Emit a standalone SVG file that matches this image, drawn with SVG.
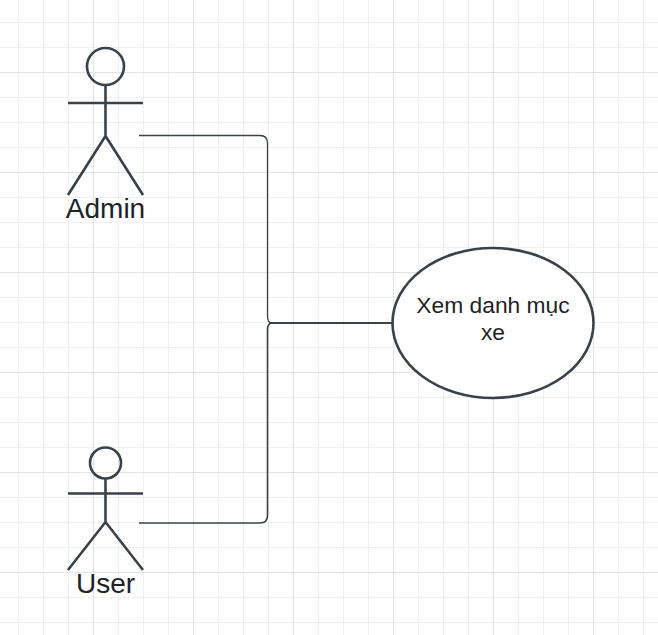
<svg xmlns="http://www.w3.org/2000/svg" width="658" height="635" viewBox="0 0 658 635">
<defs>
<pattern id="gridMinor" width="25" height="25" patternUnits="userSpaceOnUse" x="18" y="22"><path d="M0.5 0V25M0 0.5H25" fill="none" stroke="#f0f0f2" stroke-width="1"/></pattern>
<pattern id="gridMajor" width="100" height="100" patternUnits="userSpaceOnUse" x="93" y="72"><path d="M0.5 0V100M0 0.5H100" fill="none" stroke="#e2e3e6" stroke-width="1"/></pattern>
</defs>
<style>
.s{fill:none;stroke:#3a414a;stroke-width:2.6;stroke-linecap:butt}
.h{fill:#fff;stroke:#3a414a;stroke-width:2.6}
.c{fill:none;stroke:#3a414a;stroke-width:1.3}
text{font-family:"Liberation Sans",Arial,sans-serif;fill:#1f2226;text-anchor:middle}
.a{font-size:28px}
.u{font-size:22.8px}
</style>
<rect width="658" height="635" fill="#fff"/>
<rect width="658" height="635" fill="url(#gridMinor)"/>
<rect width="658" height="635" fill="url(#gridMajor)"/>
<g id="connectors">
<path class="c" d="M139 135.500H260Q267.500 135.500 267.500 143V316Q267.500 323 272 323"/>
<path class="c" style="stroke-width:1.6" d="M139 523H260Q267.500 523 267.500 515.500V330Q267.500 323 272 323"/>
<path class="c" style="stroke-width:2" d="M271 323H392"/>
</g>
<g id="admin">
<circle class="s" cx="105.500" cy="66.500" r="18.500"/>
<path class="s" d="M105.500 85V135M68 103H143M68 195L105.500 136L143 195"/>
<text class="a" x="105.500" y="218">Admin</text>
</g>
<g id="user">
<circle class="s" cx="105.500" cy="463" r="15.500"/>
<path class="s" d="M105.500 478.500V522M68 493.500H143M68 570L105.500 522L143 570"/>
<text class="a" x="105.500" y="593">User</text>
</g>
<g id="usecase">
<ellipse class="h" cx="493" cy="323" rx="100.500" ry="75"/>
<text class="u" x="493" y="313">Xem danh mục</text>
<text class="u" x="493" y="340">xe</text>
</g>
</svg>
